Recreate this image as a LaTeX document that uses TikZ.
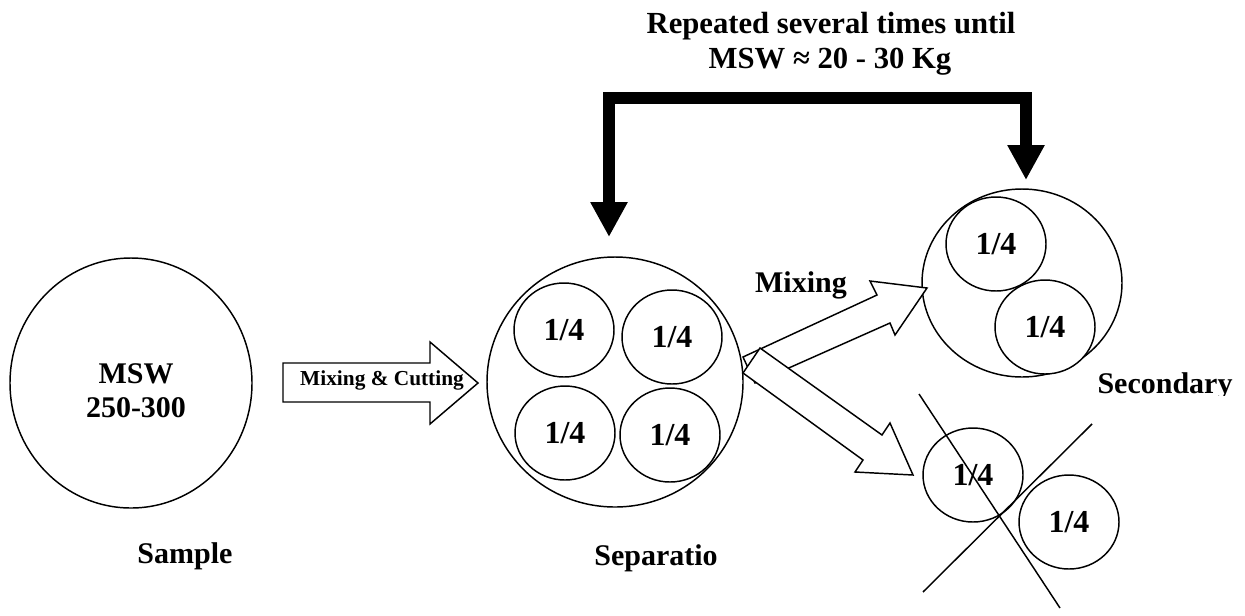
\documentclass[tikz,border=0pt]{standalone}
\usepackage{fontspec}
\setmainfont{Liberation Serif}
\usetikzlibrary{shapes.geometric,arrows.meta}
\begin{document}
\begin{tikzpicture}[x=0.75pt,y=-0.75pt,
  ring/.style={draw, ellipse, inner sep=0pt, line width=1.1pt, fill=white},
  quarter/.style={ring, minimum width=75pt, minimum height=70.5pt, font=\fontsize{24}{28}\selectfont\bfseries},
  lbl/.style={font=\fontsize{22.5}{27}\selectfont\bfseries, inner sep=0pt},
  toplbl/.style={font=\fontsize{23}{27}\selectfont\bfseries, inner sep=0pt},
  blockarrow/.style={draw, fill=white, line width=1.1pt, line join=miter},
  feedback/.style={line width=9pt, line join=miter, {Triangle[width=26.25pt,length=26.25pt]}-{Triangle[width=26.25pt,length=26.25pt]}},
  crossline/.style={line width=1.1pt}]
\useasboundingbox (0,0) rectangle (1245,615);

% top caption
\node[toplbl, anchor=base] (cap1) at (831,33) {Repeated several times until};
\node[toplbl, anchor=base] (cap2) at (830,68) {MSW ≈ 20 - 30 Kg};

% sample
\node[ring, minimum width=181.5pt, minimum height=187.5pt] (sample) at (131,383) {};
\node[lbl, anchor=base] (msw) at (136,383) {MSW};
\node[lbl, anchor=base] (mass) at (136,417) {250-300};
\node[lbl, anchor=base] (samplelbl) at (185,563) {Sample};

% mixing & cutting arrow
\coordinate (mcA) at (283,363);
\draw[blockarrow] (mcA) -- (430,363) -- (430,342) -- (478,383) -- (430,424) -- (430,402) -- (283,402) -- cycle;
\node[font=\fontsize{16}{19}\selectfont\bfseries, inner sep=0pt, anchor=base] (mclbl) at (382,385) {Mixing \& Cutting};

% separation
\node[ring, minimum width=192pt, minimum height=187.5pt] (sep) at (615,382) {};
\node[quarter] (q1) at (564,330) {1/4};
\node[quarter] (q2) at (672,337) {1/4};
\node[quarter] (q3) at (565,433) {1/4};
\node[quarter] (q4) at (670,435) {1/4};
\node[lbl, anchor=base] (seplbl) at (656,565) {Separatio};

% secondary
\node[ring, minimum width=150pt, minimum height=141pt] (sec) at (1022,283) {};
\node[quarter] (s1) at (996,244) {1/4};
\node[quarter] (s2) at (1045,327) {1/4};
\begin{scope}
  \clip (1050,340) rectangle (1245,395);
  \node[lbl, anchor=base] (seclbl) at (1165,393) {Secondary};
\end{scope}

% discarded
\node[quarter] (d1) at (973,475) {1/4};
\node[quarter] (d2) at (1069,522) {1/4};
\draw[crossline] (919,394) -- (1060,608);
\draw[crossline] (923,592) -- (1092,424);

% mixing arrows
\draw[blockarrow] (743,357) -- (877,295) -- (870,281) -- (927,288) -- (895,335) -- (890,323) -- (755,383) -- cycle;
\draw[blockarrow] (760,348) -- (882,435) -- (890,423) -- (913,475) -- (855,472) -- (863,460) -- (743,373) -- cycle;
\node[lbl, anchor=base] (mixlbl) at (801,292) {Mixing};

% feedback arrow
\coordinate (fbL) at (609,237);
\coordinate (fbR) at (1026,180);
\draw[feedback] (fbL) -- (609,97.5) -- (1026,97.5) -- (fbR);
\end{tikzpicture}
\end{document}
